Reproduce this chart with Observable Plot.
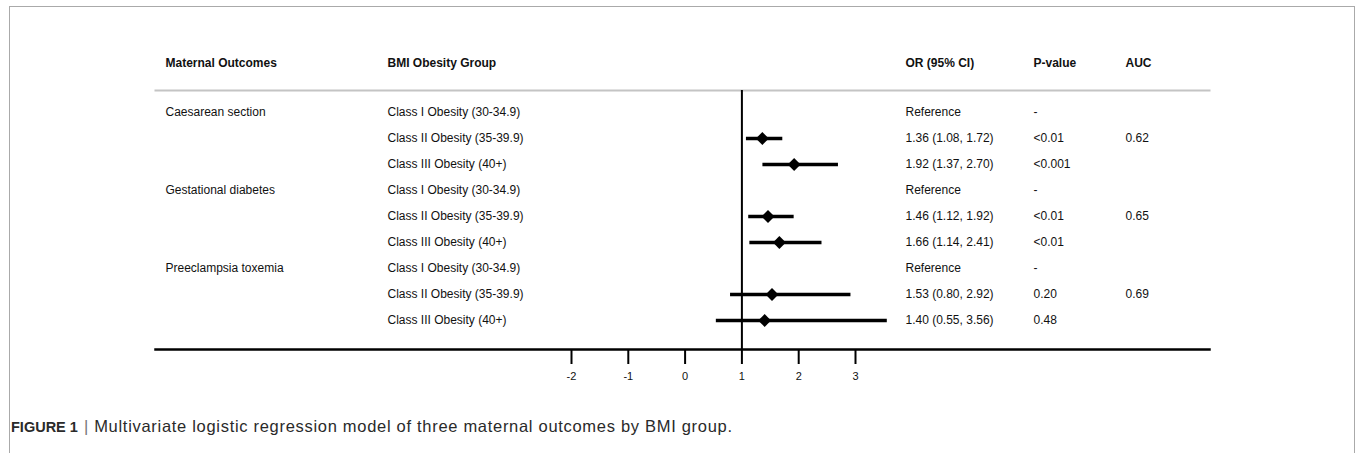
<!DOCTYPE html>
<html>
<head>
<meta charset="utf-8">
<script src="https://cdn.jsdelivr.net/npm/d3@7"></script>
<script src="https://cdn.jsdelivr.net/npm/@observablehq/plot@0.6"></script>
<style>
  html, body { margin: 0; padding: 0; background: #fff; }
  body { width: 1357px; height: 453px; position: relative; overflow: hidden; font-family: "Liberation Sans", Arial, sans-serif; }
  #border { position: absolute; left: 9px; top: 6px; width: 1344px; height: 460px; border: 1px solid #aaa; border-bottom: none; }
  #chart { position: absolute; left: 0; top: 0; }
  #caption { position: absolute; left: 11px; top: 416px; font-size: 16.5px; letter-spacing: 0.7px; line-height: 20px; color: #2a2a2a; white-space: nowrap; }
  #caption b { font-weight: bold; font-size: 14.5px; letter-spacing: 0; }
  #caption .sep { color: #777; margin: 0 6px 0 6px; letter-spacing: 0; }
</style>
</head>
<body>
<div id="border"></div>
<div id="chart"></div>
<div id="caption"><b>FIGURE 1</b><span class="sep">|</span>Multivariate logistic regression model of three maternal outcomes by BMI group.</div>
<script>
// ---- data ----
const headers = ["Maternal Outcomes", "BMI Obesity Group", "OR (95% CI)", "P-value", "AUC"];
const outcomes = ["Caesarean section", "", "", "Gestational diabetes", "", "", "Preeclampsia toxemia", "", ""];
const groups = ["Class I Obesity (30-34.9)", "Class II Obesity (35-39.9)", "Class III Obesity (40+)",
                "Class I Obesity (30-34.9)", "Class II Obesity (35-39.9)", "Class III Obesity (40+)",
                "Class I Obesity (30-34.9)", "Class II Obesity (35-39.9)", "Class III Obesity (40+)"];
const oddsRatio = [null, 1.36, 1.92, null, 1.46, 1.66, null, 1.53, 1.40];
const ciLow     = [null, 1.08, 1.37, null, 1.12, 1.14, null, 0.80, 0.55];
const ciHigh    = [null, 1.72, 2.70, null, 1.92, 2.41, null, 2.92, 3.56];
const orText = ["Reference", "1.36 (1.08, 1.72)", "1.92 (1.37, 2.70)",
                "Reference", "1.46 (1.12, 1.92)", "1.66 (1.14, 2.41)",
                "Reference", "1.53 (0.80, 2.92)", "1.40 (0.55, 3.56)"];
const pValues = ["-", "<0.01", "<0.001", "-", "<0.01", "<0.01", "-", "0.20", "0.48"];
const aucValues = ["", "0.62", "", "", "0.65", "", "", "0.69", ""];
const xTicks = [-2, -1, 0, 1, 2, 3];
const refLine = 1;

// ---- build table ----
const rows = groups.map((g, i) => ({
  id: i, outcome: outcomes[i], group: g, or: oddsRatio[i], lo: ciLow[i], hi: ciHigh[i],
  orText: orText[i], p: pValues[i], auc: aucValues[i]
}));
const estimates = rows.filter(d => d.or != null);

// layout (column offsets from the frame's left edge)
const colDx = [10, 232, 750, 878, 970];
const textCols = ["outcome", "group", "orText", "p", "auc"];

const W = 1357, H = 395;
const font = "'Liberation Sans', Arial, Helvetica, sans-serif";

const marks = [
  Plot.frame({anchor: "top", stroke: "#c4c4c4", strokeWidth: 2}),
  Plot.frame({anchor: "bottom", stroke: "#000", strokeWidth: 2.5}),
  Plot.ruleX([refLine], {stroke: "#000", strokeWidth: 2}),
  Plot.ruleY(estimates, {y: "id", x1: "lo", x2: "hi", stroke: "#000", strokeWidth: 3.5}),
  Plot.dot(estimates, {y: "id", x: "or", symbol: "diamond2", r: 5.8, fill: "#000", stroke: "none"}),
  Plot.axisX({ticks: xTicks, tickSize: 15, tickPadding: 8, strokeWidth: 2, stroke: "#000",
               fontSize: 11, fill: "#111", tickFormat: d => String(d), label: null}),
  Plot.axisY({ticks: [], label: null})
];
headers.forEach((h, k) => {
  marks.push(Plot.text([h], {text: d => d, frameAnchor: "top-left", dx: colDx[k], dy: -32,
    textAnchor: "start", fontWeight: "bold", fontSize: 12, fill: "#111"}));
});
textCols.forEach((c, k) => {
  marks.push(Plot.text(rows, {y: "id", text: c, frameAnchor: "left", dx: colDx[k],
    textAnchor: "start", fontSize: 12, fill: "#111"}));
});

const plot = Plot.plot({
  width: W, height: H,
  marginLeft: 155, marginRight: 148, marginTop: 90, marginBottom: H - 349,
  style: {fontFamily: font, fontSize: "12px", background: "transparent", color: "#111"},
  x: {type: "linear", domain: [-2, 3], range: [571, 855]},
  y: {type: "linear", domain: [0, 8], range: [112, 320]},
  marks
});
document.getElementById("chart").appendChild(plot);
</script>
</body>
</html>
